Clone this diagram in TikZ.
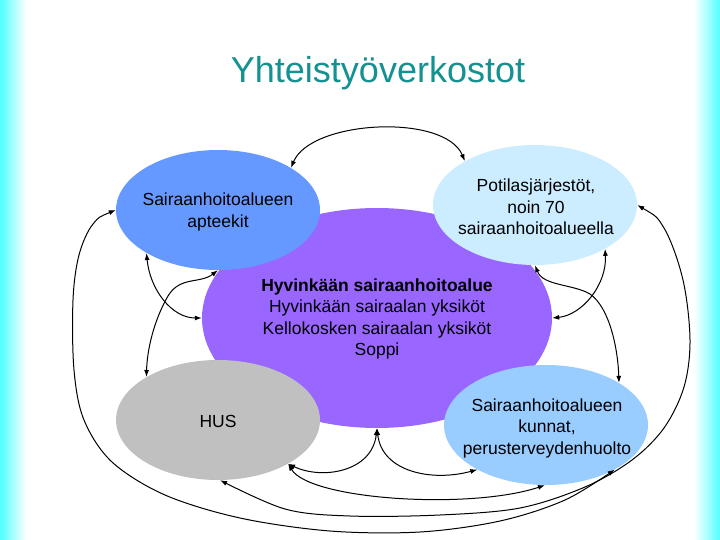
\documentclass[tikz,border=0pt]{standalone}
\usepackage{fontspec}
\setmainfont{Liberation Sans}
\usetikzlibrary{shapes.geometric,arrows.meta}
\definecolor{bgcyan}{RGB}{80,255,255}
\definecolor{titlecol}{RGB}{20,145,145}
\definecolor{hyvcol}{RGB}{153,102,255}
\definecolor{aptcol}{RGB}{102,153,255}
\definecolor{potcol}{RGB}{204,236,255}
\definecolor{huscol}{RGB}{192,192,192}
\definecolor{kuncol}{RGB}{153,204,255}
\tikzset{
  ell/.style={ellipse, draw=none, inner sep=0pt, minimum width=204pt, minimum height=120pt},
  txt/.style={align=center, inner sep=0pt, text=black, font=\fontsize{17.5pt}{21.5pt}\selectfont},
  conn/.style={draw=black, line width=1pt, {Latex[length=7pt,width=5pt]}-{Latex[length=7pt,width=5pt]}}
}
\begin{document}
\begin{tikzpicture}[x=1pt,y=-1pt]
\useasboundingbox (0,0) rectangle (720,540);
\fill[white] (0,0) rectangle (720,540);
\shade[left color=bgcyan, right color=white] (0,0) rectangle (26,540);
\shade[left color=white, right color=bgcyan] (694,0) rectangle (720,540);

\node[font=\fontsize{36pt}{40pt}\selectfont, text=titlecol, anchor=base, inner sep=0pt] (title) at (378,83) {Yhteistyöverkostot};

\node[ellipse, draw=none, inner sep=0pt, minimum width=350pt, minimum height=220pt, fill=hyvcol] (hyv) at (377,318) {};
\node[ell, fill=aptcol] (apt) at (218,210) {};
\node[ell, fill=potcol] (pot) at (535,205) {};
\node[ell, fill=huscol] (hus) at (218,420) {};
\node[ell, fill=kuncol] (kun) at (546,425) {};

\node[txt] (aptT) at (218,212) {Sairaanhoitoalueen\\apteekit};
\node[txt] (potT) at (536,207) {Potilasjärjestöt,\\noin 70\\sairaanhoitoalueella};
\node[txt] (hyvT) at (377,319) {\textbf{Hyvinkään sairaanhoitoalue}\\Hyvinkään sairaalan yksiköt\\Kellokosken sairaalan yksiköt\\Soppi};
\node[txt] (husT) at (218,421) {HUS};
\node[txt] (kunT) at (547,428) {Sairaanhoitoalueen\\kunnat,\\perusterveydenhuolto};

% A: top arc
\draw[conn] (apt.30) .. controls +(20,-48) and +(-20,-48) .. (pot.148);
% B: outer left loop
\draw[conn] plot[smooth, tension=0.55] coordinates {(apt.180) (93,224) (79,255) (73,300) (74,370) (84,420) (112,462) (165,495) (240,518) (330,531) (420,532) (500,521) (565,500) (kun.327)};
% C: outer right loop
\draw[conn] plot[smooth, tension=0.55] coordinates {(pot.0) (664,228) (683,280) (690,340) (684,387) (664,428) (632,460) (585,487) (520,508) (440,515) (350,516) (285,509) (hus.272)};
% D: HUS -- kunnat bottom
\draw[conn] (hus.328) .. controls (310,500) and (470,510) .. (kun.269);
% E: purple -- HUS
\draw[conn] (hyv.270) .. controls (372,472) and (322,480) .. (hus.328);
% F: purple -- kunnat
\draw[conn] (hyv.270) .. controls (382,472) and (432,482) .. (kun.213);
% G: apteekit -- purple left
\draw[conn] (apt.211) .. controls (150,290) and (172,318) .. (hyv.180);
% H: apteekit -- HUS
\draw[conn] (apt.270) .. controls (200,284) and (180,276) .. (168,296) .. controls (154,320) and (147,350) .. (hus.149);
% I: potilas -- purple right
\draw[conn] (pot.328) .. controls (607,285) and (582,315) .. (hyv.0);
% J: potilas -- kunnat
\draw[conn] (pot.270) .. controls (543,286) and (573,284) .. (590,294) .. controls (610,308) and (618,350) .. (kun.30);
\end{tikzpicture}
\end{document}
